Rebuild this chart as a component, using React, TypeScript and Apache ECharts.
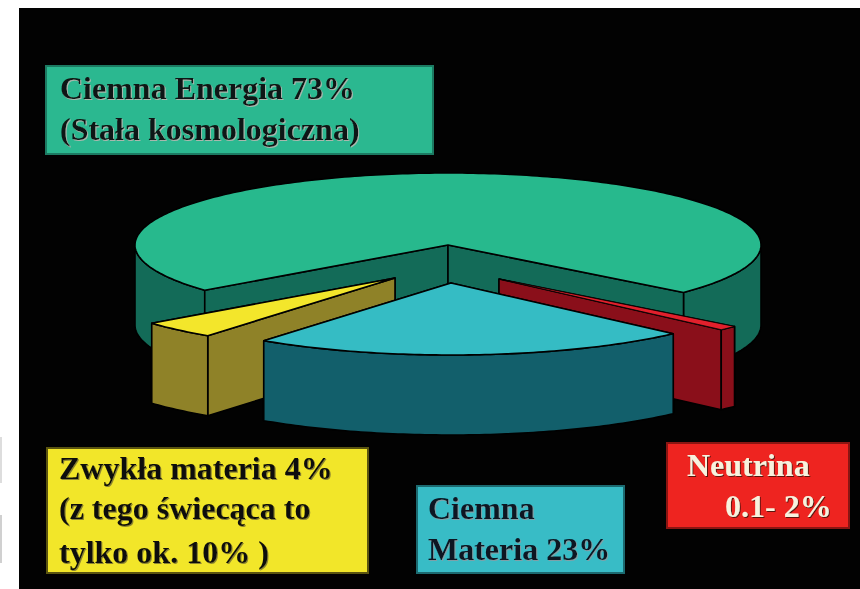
import React, { useEffect, useRef } from "react";
import * as echarts from "echarts";

// Shares of the Universe's content, in percent.
const sliceNames = ["Ciemna Energia", "Neutrina", "Ciemna Materia", "Zwykła materia"];
const sliceValues = [73, 1, 23, 4];
const topColors = ["#27b98d", "#e2202c", "#35bcc4", "#f3e62b"];
const sideColors = ["#136b58", "#8a0f1a", "#125f6b", "#8f8228"];
// How far each wedge is pulled from the pie's axis.
const sliceOffsetsX = [0, 51, 3, -53];
const sliceOffsetsY = [0, 34, 38, 33];
// Painter's order: the dark matter wedge sits nearest the viewer.
const drawOrder = [0, 1, 3, 2];

const boxLines = [
  ["Ciemna Energia 73%", "(Stała kosmologiczna)"],
  ["Zwykła materia 4%", "(z tego świecąca to", "tylko ok. 10% )"],
  ["Ciemna", "Materia 23%"],
  ["Neutrina", "0.1- 2%"],
];

const CX = 448;
const CY = 245;
const RX = 313;
const RY = 72;
const DEPTH = 80;
const START_DEG = 141;
const FONT_SIZE = 32;
const BASELINE_SHIFT = 6;

const total = sliceValues.reduce((a, b) => a + b, 0);

function rimPoints(a0: number, a1: number, ox: number, oy: number, dz: number) {
  const pts: number[][] = [];
  const n = Math.max(2, Math.ceil(Math.abs(a1 - a0)));
  for (let i = 0; i <= n; i++) {
    const t = ((a0 + ((a1 - a0) * i) / n) * Math.PI) / 180;
    pts.push([CX + ox + RX * Math.cos(t), CY + oy + RY * Math.sin(t) + dz]);
  }
  return pts;
}

function face(points: number[][], fill: string, lineWidth = 1.6) {
  return {
    type: "polygon",
    shape: { points },
    style: { fill, stroke: "#000", lineWidth, lineJoin: "round" },
  };
}

function renderSlice(params: any, api: any) {
  const idx = drawOrder[params.dataIndex];
  const before = sliceValues.slice(0, idx).reduce((a, b) => a + b, 0);
  const a0 = START_DEG + (before / total) * 360;
  const a1 = a0 + (api.value(0) / total) * 360;
  const ox = sliceOffsetsX[idx];
  const oy = sliceOffsetsY[idx];
  const side = sideColors[idx];
  const apex = [CX + ox, CY + oy];
  const apexLow = [CX + ox, CY + oy + DEPTH];
  const top = rimPoints(a0, a1, ox, oy, 0);
  const first = top[0];
  const last = top[top.length - 1];
  const children: any[] = [];

  // Cut faces running from the axis out to both ends of the rim.
  const cutFace = (p: number[]) =>
    face([apex, p, [p[0], p[1] + DEPTH], apexLow], side);

  // Outer wall: only the part of the rim facing the viewer.
  const wall = (from: number, to: number) => {
    const upper = rimPoints(from, to, ox, oy, 0);
    const lower = rimPoints(to, from, ox, oy, DEPTH);
    return face([...upper, ...lower], side);
  };

  // The cut face whose rim end lies higher on screen is further back.
  const [backEnd, frontEnd] = first[1] < last[1] ? [first, last] : [last, first];

  if (idx === 0) {
    // The large slice wraps round the back: its rim shows at both sides.
    children.push(wall(a0, 180), wall(360, a1));
    children.push(cutFace(backEnd), cutFace(frontEnd));
  } else {
    children.push(cutFace(backEnd), cutFace(frontEnd));
    children.push(wall(a0, a1));
  }
  children.push(face([apex, ...top], topColors[idx], idx === 1 ? 0.8 : 1.6));

  return { type: "group", children };
}

function textBox(
  x: number,
  y: number,
  w: number,
  h: number,
  fill: string,
  border: string,
  lines: string[],
  xs: number[],
  baselines: number[],
  color: string,
  shadow: string
) {
  return {
    type: "group",
    children: [
      {
        type: "rect",
        shape: { x, y, width: w, height: h },
        style: { fill, stroke: border, lineWidth: 2 },
      },
      ...lines.map((text, i) => ({
        type: "text",
        x: xs[i],
        y: baselines[i] + BASELINE_SHIFT,
        style: {
          text,
          fill: color,
          font: `bold ${FONT_SIZE}px "Liberation Serif"`,
          verticalAlign: "bottom",
          textShadowColor: shadow,
          textShadowOffsetX: 1,
          textShadowOffsetY: 1,
          textShadowBlur: 1,
        },
      })),
    ],
  };
}

export default function App() {
  const ref = useRef<HTMLDivElement>(null);

  useEffect(() => {
    const chart = echarts.init(ref.current!, null, { renderer: "svg" });
    chart.setOption({
      animation: false,
      backgroundColor: "#ffffff",
      graphic: [
        {
          type: "rect",
          z: -10,
          shape: { x: 19, y: 8, width: 841, height: 581 },
          style: { fill: "#020202" },
        },
        {
          type: "rect",
          z: -10,
          shape: { x: 0, y: 437, width: 2, height: 46 },
          style: { fill: "#dddddd" },
        },
        {
          type: "rect",
          z: -10,
          shape: { x: 0, y: 515, width: 2, height: 48 },
          style: { fill: "#d0d0d0" },
        },
        {
          ...textBox(46, 66, 387, 88, "#2bb890", "#1c7a62", boxLines[0], [60, 60], [98, 139], "#0c1512", "#a9b7ad"),
          z: 10,
        },
        {
          ...textBox(47, 448, 321, 125, "#f2e629", "#5a5410", boxLines[1], [59, 59, 59], [478, 518, 562], "#101008", "#8c8430"),
          z: 10,
        },
        {
          ...textBox(417, 486, 207, 87, "#38bcc6", "#1c6a70", boxLines[2], [428, 428], [518, 559], "#081624", "#7fa0a8"),
          z: 10,
        },
        {
          ...textBox(667, 443, 182, 85, "#ee2420", "#8a1512", boxLines[3], [687, 725], [475, 516], "#f8f2de", "#5a1410"),
          z: 10,
        },
      ],
      series: [
        {
          type: "custom",
          coordinateSystem: "none",
          name: "Skład Wszechświata",
          data: drawOrder.map((i) => ({ name: sliceNames[i], value: [sliceValues[i]] })),
          renderItem: renderSlice,
          silent: true,
        },
      ],
    });
    return () => chart.dispose();
  }, []);

  return (
    <div
      ref={ref}
      style={{ position: "fixed", left: 0, top: 0, width: 860, height: 589 }}
    />
  );
}
